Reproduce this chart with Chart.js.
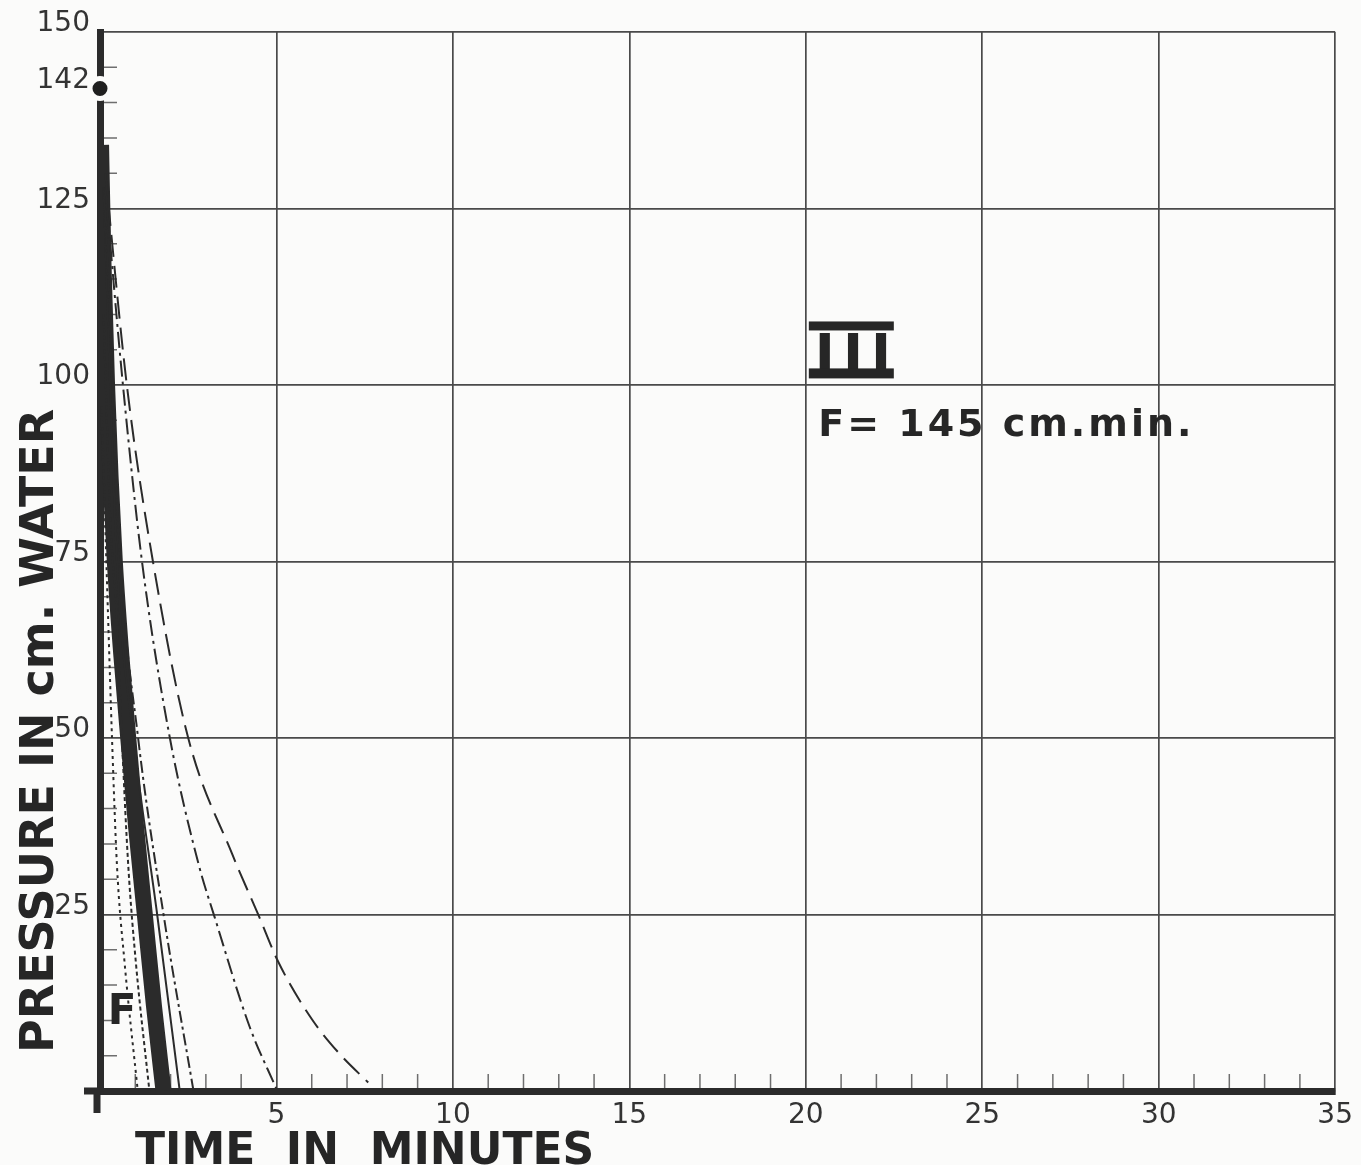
<!DOCTYPE html>
<html>
<head>
<meta charset="utf-8">
<script src="https://cdn.jsdelivr.net/npm/chart.js@4.4.1/dist/chart.umd.min.js"></script>
<style>
  html, body { margin: 0; padding: 0; background: #fbfbfa; }
</style>
</head>
<body>
<canvas id="chart" width="1361" height="1165"></canvas>
<script>
// ticks: minutes on x, cm water on y
const xLabelled = [5, 10, 15, 20, 25, 30, 35];
const yLabelled = [25, 50, 75, 100, 125, 142, 150];
const xMinorStep = 1;
const yMinorStep = 5;

// starting pressure marked on the axis
const startT = [0];
const startP = [142];

// curves (t in minutes, p in cm water)
const thickT = [0.03, 0.1, 0.2, 0.3, 0.42, 0.6, 0.8, 1.03, 1.27, 1.53, 1.8];
const thickP = [134, 117, 100, 87, 75, 62, 50, 37, 25, 12, 0];

const dotA_T = [0.05, 0.15, 0.23, 0.34, 0.48, 0.7, 1.07];
const dotA_P = [97, 80, 67, 50, 32, 18, 0];

const dotB_T = [0.1, 0.3, 0.48, 0.62, 0.8, 1.02, 1.4];
const dotB_P = [110, 80, 67, 50, 32, 18, 0];

const solidC_T = [0.1, 0.48, 0.95, 1.62, 2.26];
const solidC_P = [128, 75, 50, 25, 0];

const dashDotD_T = [0.12, 0.58, 1.08, 1.8, 2.65];
const dashDotD_P = [128, 75, 50, 25, 0];

const dashDotT = [0.15, 0.65, 1.19, 1.98, 2.8, 3.25, 4.24, 5.0];
const dashDotP = [128, 100, 75, 50, 32, 24.6, 9.1, 0.3];

const longDashT = [0.15, 0.76, 1.5, 2.5, 3.75, 4.5, 5.05, 6.0, 6.8, 7.6];
const longDashP = [130, 100, 75, 50, 33.5, 24.8, 18.3, 10.2, 5.2, 1.2];

const INK = '#2b2b2b';
const GRID = '#4a4a4a';
const BG = '#fbfbfa';
const FONT = "'DejaVu Sans', sans-serif";

const pts = (ts, ps) => ts.map((t, i) => ({ x: t, y: ps[i] }));

function curve(ts, ps, dash, width) {
  return {
    data: pts(ts, ps),
    borderColor: INK,
    borderWidth: width,
    borderDash: dash,
    pointRadius: 0,
    cubicInterpolationMode: 'monotone',
    fill: false,
  };
}

const xTickValues = [];
for (let v = 0; v <= 35; v += xMinorStep) xTickValues.push(v);
const yTickValues = [];
for (let v = 0; v <= 150; v += yMinorStep) yTickValues.push(v);
yTickValues.push(142);
yTickValues.sort((a, b) => a - b);

const decorations = {
  id: 'decorations',
  beforeDatasetsDraw(chart) {
    const { ctx, scales: { x, y } } = chart;
    const x0 = x.getPixelForValue(0);
    const y0 = y.getPixelForValue(0);
    ctx.save();
    ctx.strokeStyle = '#6e6e6e';
    ctx.lineWidth = 1.5;
    ctx.beginPath();
    x.ticks.forEach((t) => {
      if (t.value % 5 === 0) return;
      const px = x.getPixelForValue(t.value);
      ctx.moveTo(px, y0 - 3);
      ctx.lineTo(px, y0 - 17);
    });
    y.ticks.forEach((t) => {
      if (t.value % 25 === 0 || yLabelled.includes(t.value)) return;
      const py = y.getPixelForValue(t.value);
      ctx.moveTo(x0 + 4, py);
      ctx.lineTo(x0 + 17, py);
    });
    ctx.stroke();
    // axis stubs past the origin
    ctx.strokeStyle = INK;
    ctx.lineWidth = 7;
    ctx.beginPath();
    ctx.moveTo(x0 - 3, y0);
    ctx.lineTo(x0 - 3, y0 + 22);
    ctx.moveTo(x0, y0);
    ctx.lineTo(x0 - 16, y0);
    ctx.stroke();
    ctx.restore();
  },
  afterDraw(chart) {
    const { ctx, scales: { x, y } } = chart;
    ctx.save();
    ctx.fillStyle = '#262626';
    ctx.textBaseline = 'alphabetic';

    // y title
    ctx.save();
    ctx.translate(53, y.getPixelForValue(0) - 38);
    ctx.rotate(-Math.PI / 2);
    ctx.font = 'bold 46px ' + FONT;
    ctx.textAlign = 'left';
    ctx.fillText('PRESSURE IN cm. WATER', 0, 0);
    ctx.restore();

    // x title
    ctx.font = 'bold 44px ' + FONT;
    ctx.textAlign = 'left';
    ctx.fillText('TIME  IN  MINUTES', 135, 1164);

    // roman numeral with bars
    const nx = x.getPixelForValue(20) + 3;
    const top = y.getPixelForValue(109);
    const bot = y.getPixelForValue(101.5);
    ctx.font = 'bold 54px ' + FONT;
    ctx.letterSpacing = '8px';
    ctx.fillText('III', nx + 6, bot - 2);
    ctx.letterSpacing = '0px';
    ctx.fillRect(nx, top, 85, 9);
    ctx.fillRect(nx, bot - 6, 85, 10);

    // flow rate
    ctx.font = 'bold 38px ' + FONT;
    ctx.letterSpacing = '3px';
    ctx.fillText('F= 145 cm.min.', x.getPixelForValue(20.35), y.getPixelForValue(92.8));
    ctx.letterSpacing = '0px';

    // curve label
    ctx.font = 'bold 42px ' + FONT;
    ctx.fillText('F', x.getPixelForValue(0.22), y.getPixelForValue(9.5));
    ctx.restore();
  },
};

new Chart(document.getElementById('chart'), {
  type: 'line',
  data: {
    datasets: [
      curve(longDashT, longDashP, [22, 9], 2),
      curve(dashDotT, dashDotP, [16, 5, 3, 5], 2),
      curve(dashDotD_T, dashDotD_P, [12, 4, 3, 4], 2),
      curve(solidC_T, solidC_P, [], 2),
      curve(dotB_T, dotB_P, [4, 3], 2),
      curve(dotA_T, dotA_P, [3, 4], 2),
      curve(thickT, thickP, [], 16),
      {
        data: pts(startT, startP),
        showLine: false,
        pointRadius: 10,
        pointBackgroundColor: '#1f1f1f',
        pointBorderColor: BG,
        pointBorderWidth: 5,
        clip: false,
      },
    ],
  },
  options: {
    responsive: false,
    animation: false,
    layout: { padding: { top: 32, right: 22, left: 0, bottom: 0 } },
    plugins: { legend: { display: false }, tooltip: { enabled: false } },
    scales: {
      x: {
        type: 'linear',
        min: 0,
        max: 35,
        afterBuildTicks: (scale) => { scale.ticks = xTickValues.map((v) => ({ value: v })); },
        afterFit: (scale) => { scale.height = 74; },
        grid: {
          drawTicks: false,
          color: (c) => (c.tick && c.tick.value % 5 === 0 ? GRID : 'rgba(0,0,0,0)'),
          lineWidth: 1.7,
        },
        border: { display: true, color: INK, width: 7 },
        ticks: {
          autoSkip: false,
          maxRotation: 0,
          minRotation: 0,
          padding: 8,
          color: '#333',
          font: { family: FONT, size: 28 },
          callback: (v) => (xLabelled.includes(v) ? String(v) : ''),
        },
      },
      y: {
        type: 'linear',
        min: 0,
        max: 150,
        afterBuildTicks: (scale) => { scale.ticks = yTickValues.map((v) => ({ value: v })); },
        afterFit: (scale) => { scale.width = 100; },
        grid: {
          drawTicks: false,
          color: (c) => (c.tick && c.tick.value % 25 === 0 ? GRID : 'rgba(0,0,0,0)'),
          lineWidth: 1.7,
        },
        border: { display: true, color: INK, width: 7 },
        ticks: {
          autoSkip: false,
          padding: 10,
          labelOffset: -8,
          color: '#333',
          font: { family: FONT, size: 28 },
          callback: (v) => (yLabelled.includes(v) ? String(v) : ''),
        },
      },
    },
  },
  plugins: [decorations],
});
</script>
</body>
</html>
